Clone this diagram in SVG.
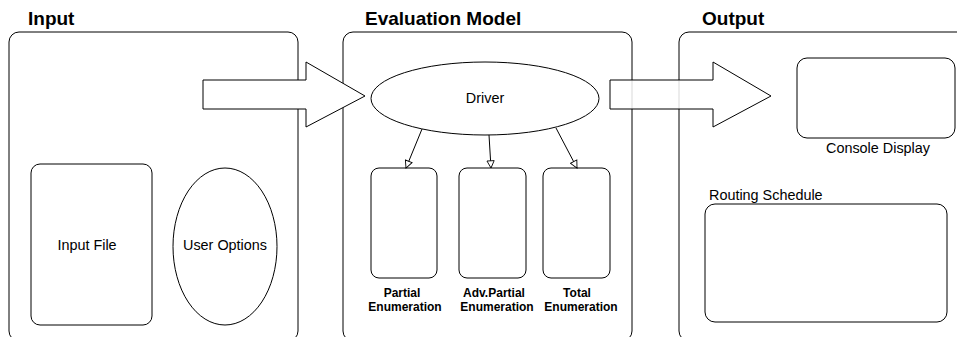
<svg xmlns="http://www.w3.org/2000/svg" width="957" height="337" viewBox="0 0 957 337">
<style>
.box{fill:#fff;stroke:#000;stroke-width:1}
.title{font-family:"Liberation Sans",Arial,sans-serif;font-weight:bold;font-size:19px;fill:#000}
.lbl{font-family:"Liberation Sans",Arial,sans-serif;font-size:14.4px;fill:#000}
.blbl{font-family:"Liberation Sans",Arial,sans-serif;font-weight:bold;font-size:12px;fill:#000;text-anchor:middle}
.conn{stroke:#000;stroke-width:1;fill:none}
</style>
<defs>
<marker id="tri" viewBox="0 0 10 10" refX="9" refY="5" markerWidth="9" markerHeight="9" orient="auto" markerUnits="userSpaceOnUse">
<path d="M1,1 L9,5 L1,9 Z" fill="#fff" stroke="#000" stroke-width="1"/>
</marker>
</defs>
<rect width="957" height="337" fill="#fff"/>

<g id="input">
<rect class="box" x="9" y="32" width="289" height="309" rx="10"/>
<text class="title" x="28" y="25">Input</text>
</g>
<g id="input-file">
<rect class="box" x="31" y="164" width="121" height="161" rx="9"/>
<text class="lbl" x="87" y="250" text-anchor="middle">Input File</text>
</g>
<g id="user-options">
<ellipse class="box" cx="225" cy="246.5" rx="52" ry="78.5"/>
<text class="lbl" x="225" y="250" text-anchor="middle">User Options</text>
</g>

<g id="evaluation-model">
<rect class="box" x="343" y="32" width="289" height="309" rx="10"/>
<text class="title" x="365" y="25">Evaluation Model</text>
</g>
<g id="driver">
<ellipse class="box" cx="485" cy="98.5" rx="114" ry="36.5"/>
<text class="lbl" x="485" y="103" text-anchor="middle">Driver</text>
</g>
<g id="partial-enumeration">
<rect class="box" x="371" y="168" width="66" height="110" rx="8"/>
<text class="blbl" x="402" y="297">Partial</text>
<text class="blbl" x="405" y="311">Enumeration</text>
</g>
<g id="adv-partial-enumeration">
<rect class="box" x="459" y="168" width="67" height="110" rx="8"/>
<text class="blbl" x="494" y="297">Adv.Partial</text>
<text class="blbl" x="497" y="311">Enumeration</text>
</g>
<g id="total-enumeration">
<rect class="box" x="543" y="168" width="67" height="110" rx="8"/>
<text class="blbl" x="577" y="297">Total</text>
<text class="blbl" x="581" y="311">Enumeration</text>
</g>

<g id="output">
<rect class="box" x="679" y="32" width="300" height="309" rx="10"/>
<text class="title" x="702" y="25">Output</text>
</g>
<g id="console-display">
<rect class="box" x="797" y="58" width="158" height="80" rx="10"/>
<text class="lbl" x="878" y="153" text-anchor="middle">Console Display</text>
</g>
<g id="routing-schedule">
<text class="lbl" x="709" y="200">Routing Schedule</text>
<rect class="box" x="705" y="204" width="242" height="118" rx="10"/>
</g>

<g id="connectors">
<polygon points="203,80 306,80 306,62 365,96 306,127 306,109 203,109" fill="#fff" stroke="#000" stroke-width="1"/>
<polygon points="610,80 713,80 713,62 771,96 713,127 713,109 610,109" fill="#fff" fill-opacity="0.85" stroke="#000" stroke-width="1"/>
<line class="conn" x1="422" y1="129" x2="406" y2="168" marker-end="url(#tri)"/>
<line class="conn" x1="489" y1="135" x2="491" y2="168" marker-end="url(#tri)"/>
<line class="conn" x1="556" y1="128" x2="577" y2="168" marker-end="url(#tri)"/>
</g>
</svg>
